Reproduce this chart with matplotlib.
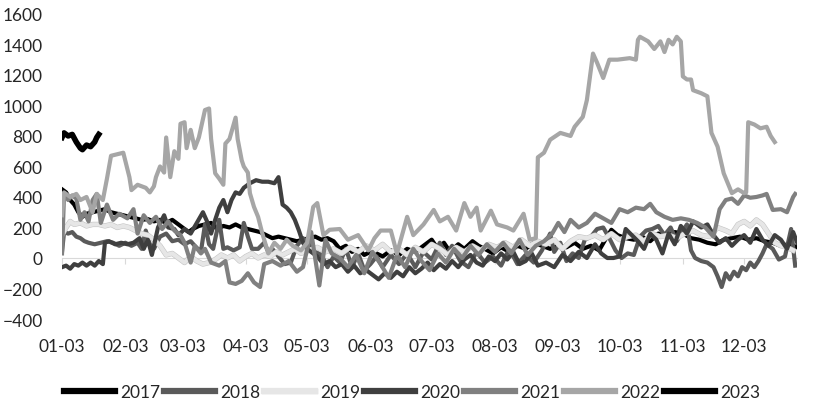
import matplotlib
matplotlib.use("Agg")
import matplotlib.pyplot as plt
import matplotlib.patheffects as pe

plt.rcParams['font.family'] = ['Lato', 'DejaVu Sans']

# x = day of year, ticks at the 3rd of each month
tick_days = [3, 34, 62, 93, 123, 154, 184, 215, 246, 276, 307, 337]
tick_labels = ['01-03', '02-03', '03-03', '04-03', '05-03', '06-03',
               '07-03', '08-03', '09-03', '10-03', '11-03', '12-03']

days_2017 = [3, 5, 7, 9, 11, 13, 15, 18, 21, 24, 27, 30, 33, 36, 39, 42, 45, 48, 51, 54, 57, 60, 62, 65, 67,
             70, 73, 76, 79, 82, 85, 88, 91, 94, 97, 100, 103, 106, 109, 112, 115, 118, 121, 124, 127, 130,
             133, 136, 139, 142, 145, 148, 151, 154, 157, 160, 164, 168, 172, 176, 180, 184, 187, 190, 193,
             197, 200, 204, 207, 210, 214, 218, 222, 226, 230, 234, 238, 242, 246, 250, 254, 258, 262, 266,
             269, 272, 275, 279, 283, 287, 291, 295, 299, 303, 307, 311, 315, 319, 323, 327, 331, 335, 339,
             343, 347, 351, 355, 359, 363]
vals_2017 = [450, 430, 380, 350, 300, 270, 290, 300, 310, 320, 300, 290, 280, 270, 260, 250, 255, 240, 250,
             230, 250, 220, 200, 170, 190, 210, 220, 230, 190, 210, 200, 220, 200, 190, 180, 170, 150, 130,
             140, 130, 120, 110, 120, 130, 140, 120, 130, 110, 60, 80, 40, 60, 20, 40, 30, 10, 50, 20, 60,
             40, 80, 120, 60, 100, 40, 90, 60, 110, 80, 60, 30, 70, 40, 80, 60, 100, 80, 60, 80, 70, 100,
             60, 80, 50, 120, 185, 150, 130, 120, 140, 110, 160, 150, 170, 160, 130, 120, 100, 90, 120, 130,
             140, 120, 130, 110, 100, 80, 90, 70]

days_2018 = [3, 4, 6, 8, 10, 12, 14, 16, 19, 22, 25, 28, 31, 34, 37, 40, 42, 44, 46, 48, 51, 54, 57, 60, 63,
             66, 68, 71, 73, 75, 77, 80, 82, 84, 87, 90, 92, 94, 96, 99, 102, 104, 106, 109, 112, 115, 118,
             121, 124, 127, 130, 133, 136, 139, 142, 145, 148, 151, 154, 157, 160, 164, 168, 172, 176, 180,
             184, 188, 191, 194, 198, 202, 206, 210, 214, 218, 222, 226, 230, 234, 238, 242, 244, 247, 250,
             253, 256, 259, 262, 265, 268, 271, 274, 277, 280, 283, 286, 289, 292, 295, 298, 301, 304, 307,
             309, 311, 313, 316, 319, 322, 324, 326, 328, 330, 332, 334, 336, 338, 340, 342, 344, 346, 348,
             351, 354, 357, 360, 362]
vals_2018 = [40, 170, 160, 170, 140, 130, 110, 100, 90, 100, 110, 100, 80, 100, 80, 100, 60, 180, 90, 60,
             140, 160, 110, 120, 90, 110, 80, 40, 220, 90, 60, 250, 60, 70, 50, 70, 230, 140, 60, 60, 100,
             40, 60, 10, -40, -30, 80, 130, 90, 40, 20, -60, 10, -30, 60, -60, 30, -80, -40, 10, -60, 20,
             -40, 30, -60, 40, -10, 100, 20, 80, -20, -60, 40, -30, 10, -50, 60, -40, 20, -30, 50, 160, 40,
             100, -20, 30, 0, 120, 140, 190, 200, 130, 50, 0, 30, 20, 140, 180, 190, 210, 150, 200, 110,
             180, 220, 50, 0, -20, -30, -60, -120, -190, -100, -140, -90, -120, -60, -80, -30, -60, -20, 30,
             90, 60, -10, 10, 190, -50]

days_2019 = [3, 5, 7, 9, 12, 15, 18, 21, 24, 27, 30, 33, 36, 39, 42, 45, 48, 51, 54, 57, 60, 63, 66, 69, 72,
             75, 78, 81, 84, 87, 90, 93, 96, 99, 102, 105, 108, 111, 114, 117, 120, 124, 128, 132, 136, 140,
             144, 148, 152, 156, 160, 164, 168, 172, 176, 180, 184, 188, 192, 196, 200, 204, 208, 212, 216,
             220, 224, 228, 232, 236, 240, 244, 248, 252, 256, 260, 264, 268, 272, 276, 280, 284, 288, 292,
             296, 300, 304, 308, 312, 316, 320, 324, 328, 331, 334, 337, 340, 343, 346, 349, 352, 355, 358,
             361]
vals_2019 = [150, 200, 240, 220, 230, 210, 220, 220, 210, 220, 200, 210, 200, 180, 160, 150, 120, 80, 20,
             30, 0, -30, 10, -20, -40, -30, -10, 20, 0, 20, -20, 10, 30, 0, 20, 10, 40, 20, 40, 60, 30, 50,
             70, 40, 60, 30, 70, 40, 80, 50, 90, 40, 60, 20, 70, 40, 90, 60, 20, 70, 40, 80, 50, 90, 70, 100,
             70, 120, 80, 110, 90, 120, 60, 110, 140, 130, 150, 120, 160, 120, 140, 150, 110, 160, 140, 150,
             130, 160, 180, 150, 140, 200, 180, 160, 220, 240, 210, 250, 220, 160, 100, 80, 70, 50]

days_2020 = [3, 5, 7, 9, 11, 13, 15, 17, 19, 21, 23, 24, 26, 29, 32, 35, 38, 41, 43, 45, 47, 50, 53, 55, 58,
             60, 63, 66, 69, 72, 74, 76, 78, 80, 82, 84, 86, 88, 90, 92, 95, 98, 101, 104, 107, 109, 111, 113,
             115, 117, 119, 121, 123, 125, 128, 131, 134, 137, 140, 143, 146, 149, 152, 155, 158, 161, 164,
             167, 170, 173, 176, 179, 182, 185, 188, 191, 194, 197, 200, 203, 206, 209, 212, 215, 218, 221,
             224, 227, 230, 233, 236, 240, 244, 248, 252, 256, 260, 264, 267, 270, 273, 276, 279, 282, 285,
             288, 291, 294, 297, 300, 303, 306, 309, 312, 316, 319, 322, 325, 328, 331, 334, 337, 340, 343,
             346, 349, 352, 355, 358, 361, 363]
vals_2020 = [-60, -50, -70, -40, -50, -30, -50, -30, -50, -20, -40, 100, 110, 90, 100, 90, 100, 130, 60,
             120, 20, 200, 280, 200, 190, 150, 190, 160, 230, 300, 240, 160, 250, 330, 380, 300, 380, 430,
             420, 460, 490, 510, 500, 500, 490, 530, 350, 330, 300, 250, 180, 100, 60, 40, 10, -40, -20, -60,
             -40, -90, -50, -100, -80, -110, -140, -100, -130, -90, -120, -60, -100, -70, -30, -80, -40, -70,
             -20, -60, -10, 20, -30, -50, 10, -20, 30, -10, 40, -40, -20, 30, -50, -30, -60, 20, -20, 40, 0,
             90, 30, 0, 0, 10, 190, 150, 110, 60, 160, 120, 30, 160, 90, 210, 160, 240, 200, 220, 150, 100,
             130, 80, 120, 150, 100, 190, 120, 80, 150, 120, 60, 170, 100]

days_2021 = [3, 4, 6, 8, 10, 12, 14, 16, 18, 20, 22, 25, 28, 31, 35, 38, 40, 43, 46, 49, 52, 55, 58, 61, 63,
             66, 68, 71, 73, 76, 80, 83, 85, 88, 91, 94, 97, 100, 102, 106, 110, 114, 118, 121, 125, 129,
             132, 135, 139, 143, 147, 151, 155, 159, 163, 167, 171, 175, 179, 183, 187, 191, 195, 199, 203,
             207, 211, 215, 219, 223, 227, 231, 235, 239, 243, 246, 249, 252, 256, 260, 264, 268, 272, 276,
             280, 284, 288, 291, 294, 298, 302, 306, 310, 314, 318, 322, 325, 328, 331, 334, 337, 340, 343,
             346, 348, 351, 355, 358, 361, 362]
vals_2021 = [30, 420, 380, 410, 390, 250, 300, 240, 380, 420, 230, 350, 250, 290, 260, 320, 160, 280, 230,
             270, 190, 240, 180, 150, 100, -30, 80, 30, 60, -30, -50, -20, -160, -170, -150, -100, -160, -190,
             -40, -20, -50, -20, -90, -60, 170, -180, 120, 30, 0, -60, 20, -100, 40, -40, -130, 20, -60, 60,
             -20, -80, 30, -30, 60, 0, 80, 20, 90, 40, 100, 30, 120, 20, 80, 110, 160, 230, 170, 250, 200,
             230, 290, 260, 230, 320, 300, 330, 320, 355, 300, 270, 250, 260, 250, 230, 200, 140, 320, 380,
             390, 355, 410, 395, 400, 410, 420, 315, 320, 300, 400, 420]

days_2022 = [3, 4, 7, 10, 12, 15, 18, 20, 23, 25, 27, 30, 33, 36, 37, 40, 44, 46, 48, 49, 51, 53, 54, 56,
             58, 60, 61, 63, 64, 66, 68, 70, 73, 75, 76, 78, 80, 82, 83, 85, 88, 89, 91, 92, 94, 95, 97, 99,
             101, 104, 107, 110, 113, 116, 120, 123, 126, 128, 131, 134, 139, 143, 148, 153, 156, 159, 164,
             167, 172, 175, 180, 185, 188, 192, 196, 200, 203, 206, 208, 213, 216, 221, 224, 229, 232, 235,
             236, 239, 242, 247, 252, 254, 258, 260, 263, 265, 268, 271, 275, 281, 284, 285, 286, 290, 293,
             296, 298, 300, 302, 304, 306, 307, 309, 311, 312, 316, 319, 321, 324, 327, 329, 331, 334, 337,
             338, 339, 342, 345, 348, 350, 352]
vals_2022 = [280, 430, 400, 420, 380, 400, 300, 420, 380, 520, 670, 680, 690, 530, 445, 480, 460, 430, 470,
             530, 600, 560, 790, 530, 700, 650, 880, 890, 720, 840, 720, 790, 970, 980, 780, 555, 520, 480,
             750, 780, 920, 780, 640, 600, 560, 425, 335, 270, 165, 30, 100, 60, 120, 80, 50, 100, 335, 360,
             150, 185, 190, 120, 150, 50, 130, 180, 180, 30, 270, 150, 220, 315, 240, 270, 180, 360, 270,
             330, 180, 310, 220, 200, 180, 290, 120, 130, 660, 690, 775, 820, 800, 860, 925, 1035, 1340, 1280,
             1180, 1300, 1300, 1310, 1300, 1430, 1450, 1420, 1370, 1420, 1350, 1430, 1400, 1450, 1420, 1190,
             1170, 1170, 1100, 1080, 1060, 820, 730, 555, 490, 425, 450, 425, 430, 890, 875, 850, 860, 800,
             760]

days_2023 = [3, 4, 6, 8, 10, 12, 13, 15, 17, 19, 20, 21]
vals_2023 = [790, 820, 800, 810, 760, 720, 710, 740, 730, 760, 790, 810]

series = [
    ('2017', days_2017, vals_2017, '#000000', 3.0),
    ('2018', days_2018, vals_2018, '#5a5a5a', 3.0),
    ('2019', days_2019, vals_2019, '#e6e6e6', 3.0),
    ('2020', days_2020, vals_2020, '#3f3f3f', 3.0),
    ('2021', days_2021, vals_2021, '#808080', 3.0),
    ('2022', days_2022, vals_2022, '#a6a6a6', 3.0),
    ('2023', days_2023, vals_2023, '#000000', 4.0),
]

fig = plt.figure(figsize=(8.16, 4.14), dpi=100)
ax = fig.add_axes([0.076, 0.227, 0.901, 0.737])

for name, d, v, c, lw in series:
    if name == '2019':
        ax.plot(d, v, color=c, lw=lw, label=name, solid_joinstyle='round',
                path_effects=[pe.Stroke(linewidth=lw + 0.8, foreground='#c4c4c4'), pe.Normal()])
    else:
        ax.plot(d, v, color=c, lw=lw, label=name, solid_joinstyle='round')

ax.set_xlim(3, 363)
ax.set_ylim(-400, 1600)
ax.set_yticks(range(-400, 1601, 200))
ax.set_xticks(tick_days)
ax.set_xticklabels(tick_labels)

for s in ax.spines.values():
    s.set_visible(False)
ax.tick_params(axis='both', length=0, labelsize=12.5, colors='#262626')
ax.tick_params(axis='x', pad=14)
ax.tick_params(axis='y', pad=14)

# zero line with small tick marks, like the category axis crossing at 0
zero_ax = ax.secondary_xaxis(0.2)
zero_ax.set_xticks(tick_days)
zero_ax.set_xticklabels([])
zero_ax.spines['bottom'].set_color('#d9d9d9')
zero_ax.tick_params(axis='x', length=4, color='#d9d9d9', direction='out')

leg = fig.legend(loc='center', bbox_to_anchor=(0.505, 0.05), ncol=7, frameon=False,
                 fontsize=12.5, handlelength=2.93, handletextpad=0.29, columnspacing=0.23)
for t in leg.get_texts():
    t.set_color('#262626')
for line in leg.get_lines():
    line.set_linewidth(4.5)

fig.savefig('out.png', dpi=100)
